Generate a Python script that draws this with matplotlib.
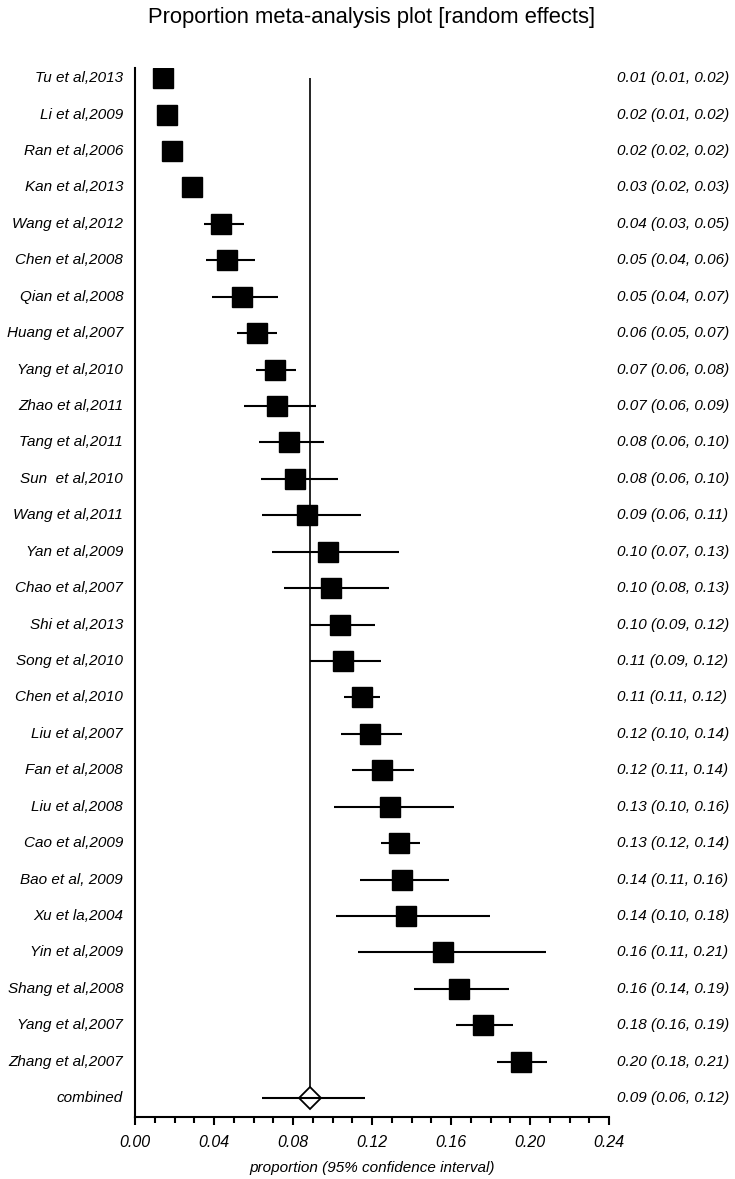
import numpy as np
import matplotlib
matplotlib.use('Agg')
import matplotlib.pyplot as plt
from matplotlib.ticker import MultipleLocator, FormatStrFormatter

studies = ['Tu et al,2013', 'Li et al,2009', 'Ran et al,2006', 'Kan et al,2013',
           'Wang et al,2012', 'Chen et al,2008', 'Qian et al,2008', 'Huang et al,2007',
           'Yang et al,2010', 'Zhao et al,2011', 'Tang et al,2011', 'Sun  et al,2010',
           'Wang et al,2011', 'Yan et al,2009', 'Chao et al,2007', 'Shi et al,2013',
           'Song et al,2010', 'Chen et al,2010', 'Liu et al,2007', 'Fan et al,2008',
           'Liu et al,2008', 'Cao et al,2009', 'Bao et al, 2009', 'Xu et la,2004',
           'Yin et al,2009', 'Shang et al,2008', 'Yang et al,2007', 'Zhang et al,2007']

est = [0.0143, 0.0160, 0.0186, 0.0290, 0.0437, 0.0466, 0.0540, 0.0616,
       0.0710, 0.0718, 0.0780, 0.0812, 0.0870, 0.0979, 0.0994, 0.1040,
       0.1053, 0.1148, 0.1191, 0.1250, 0.1290, 0.1339, 0.1354, 0.1372,
       0.1560, 0.1642, 0.1764, 0.1952]
lo = [0.0110, 0.0130, 0.0160, 0.0240, 0.0351, 0.0358, 0.0390, 0.0516,
      0.0614, 0.0550, 0.0630, 0.0636, 0.0645, 0.0692, 0.0754, 0.0886,
      0.0886, 0.1060, 0.1045, 0.1100, 0.1010, 0.1247, 0.1141, 0.1019,
      0.1129, 0.1411, 0.1624, 0.1833]
hi = [0.0180, 0.0190, 0.0210, 0.0343, 0.0552, 0.0606, 0.0726, 0.0721,
      0.0815, 0.0918, 0.0957, 0.1030, 0.1146, 0.1338, 0.1284, 0.1215,
      0.1246, 0.1240, 0.1354, 0.1413, 0.1617, 0.1441, 0.1592, 0.1797,
      0.2083, 0.1895, 0.1915, 0.2084]

ci_text = ['0.01 (0.01, 0.02)', '0.02 (0.01, 0.02)', '0.02 (0.02, 0.02)', '0.03 (0.02, 0.03)',
           '0.04 (0.03, 0.05)', '0.05 (0.04, 0.06)', '0.05 (0.04, 0.07)', '0.06 (0.05, 0.07)',
           '0.07 (0.06, 0.08)', '0.07 (0.06, 0.09)', '0.08 (0.06, 0.10)', '0.08 (0.06, 0.10)',
           '0.09 (0.06, 0.11)', '0.10 (0.07, 0.13)', '0.10 (0.08, 0.13)', '0.10 (0.09, 0.12)',
           '0.11 (0.09, 0.12)', '0.11 (0.11, 0.12)', '0.12 (0.10, 0.14)', '0.12 (0.11, 0.14)',
           '0.13 (0.10, 0.16)', '0.13 (0.12, 0.14)', '0.14 (0.11, 0.16)', '0.14 (0.10, 0.18)',
           '0.16 (0.11, 0.21)', '0.16 (0.14, 0.19)', '0.18 (0.16, 0.19)', '0.20 (0.18, 0.21)']

comb_label = 'combined'
comb_est = 0.0886
comb_lo = 0.0643
comb_hi = 0.1163
comb_text = '0.09 (0.06, 0.12)'

plt.rcParams['font.family'] = ['Liberation Sans', 'DejaVu Sans']

fig = plt.figure(figsize=(7.35, 11.79), dpi=100)
ax = fig.add_axes([135/735, 62/1179, 474/735, 1049/1179])

n = len(studies)
ys = np.arange(n)

# study CIs and boxes
ax.hlines(ys, lo, hi, color='black', lw=1.5, zorder=2)
ax.plot(est, ys, 's', color='black', markersize=13.7, zorder=3)

# combined estimate: reference line + diamond
yc = n
ax.vlines(comb_est, 0, yc - 0.3, color='black', lw=1.2, zorder=1)
ax.hlines(yc, comb_lo, comb_hi, color='black', lw=1.5, zorder=2)
ax.plot([comb_est], [yc], 'D', mfc='white', mec='black', mew=1.3,
        markersize=11.3, zorder=3)
ax.hlines(yc, comb_est - 0.005, comb_est + 0.005, color='black', lw=1.5, zorder=4)

labels = studies + [comb_label]
texts = ci_text + [comb_text]
for i in range(n + 1):
    ax.annotate(labels[i], xy=(0, i), xycoords=('axes fraction', 'data'),
                xytext=(-8.5, 0), textcoords='offset points',
                ha='right', va='center', fontsize=11, style='italic')
    ax.annotate(texts[i], xy=(1, i), xycoords=('axes fraction', 'data'),
                xytext=(6, 0), textcoords='offset points',
                ha='left', va='center', fontsize=11, style='italic')

ax.set_xlim(0, 0.24)
ax.set_ylim(28.52, -0.28)
ax.xaxis.set_major_locator(MultipleLocator(0.04))
ax.xaxis.set_minor_locator(MultipleLocator(0.01))
ax.xaxis.set_major_formatter(FormatStrFormatter('%.2f'))
ax.tick_params(axis='x', which='major', direction='out', length=6, width=1.5,
               labelsize=11.5, pad=7)
ax.tick_params(axis='x', which='minor', direction='out', length=4, width=1.5)
for lab in ax.get_xticklabels():
    lab.set_style('italic')
ax.set_yticks([])
for s in ['top', 'right']:
    ax.spines[s].set_visible(False)
for s in ['left', 'bottom']:
    ax.spines[s].set_linewidth(1.5)

ax.set_xlabel('proportion (95% confidence interval)', fontsize=11,
              style='italic', labelpad=8)

fig.text(372/735, 1 - 18/1179, 'Proportion meta-analysis plot [random effects]',
         ha='center', va='center', fontsize=15.8)

fig.savefig('out.png', dpi=100)
